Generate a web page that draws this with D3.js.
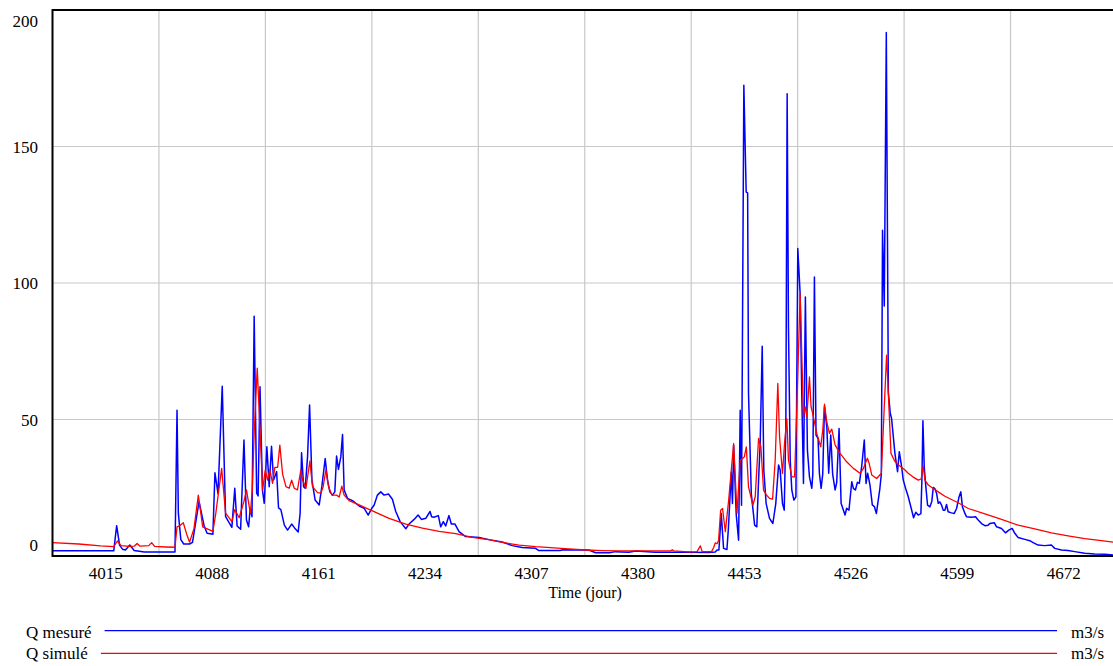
<!DOCTYPE html>
<html>
<head>
<meta charset="utf-8">
<script src="https://cdn.jsdelivr.net/npm/d3@7/dist/d3.min.js"></script>
<style>
  html, body { margin: 0; padding: 0; background: #fff; }
  svg { display: block; }
</style>
</head>
<body>
<svg id="chart" width="1113" height="666"></svg>
<script>
// ---- data ----
const timeDomain = [3942, 4672];
const xTickValues = [4015, 4088, 4161, 4234, 4307, 4380, 4453, 4526, 4599, 4672];
const yTickValues = [0, 50, 100, 150, 200];
const seriesNames = ["Q mesuré", "Q simulé"];
const seriesUnits = ["m3/s", "m3/s"];
const xAxisTitle = "Time (jour)";

const measuredDays = [3942,3984,3986,3988,3990,3992,3995,3998,4005,4015,4026,4027.4,4028.3,4030,4032,4036,4038,4042.5,4046,4048,4052,4053.4,4055.5,4058.4,4060.7,4065,4067,4068.6,4071,4073.3,4075,4076.5,4077.6,4078.8,4080.3,4082,4083,4084.3,4086,4087.2,4089,4090.6,4092.2,4093.6,4095.7,4097,4098.6,4101,4103.2,4106,4108,4110.5,4111.8,4112.8,4114.2,4115.3,4116.9,4118.3,4119.9,4122.1,4124.9,4126.7,4129,4130.6,4132.2,4134,4135.6,4136.8,4138.1,4139.7,4140.9,4142,4144.3,4147.7,4152.3,4155.7,4158.5,4161,4162.6,4164.8,4167.1,4169.4,4172.4,4175.1,4177.4,4180.4,4184.3,4186.5,4190,4192.7,4195,4198,4200.9,4202,4203.6,4206.6,4208.2,4210,4211.6,4213.9,4215.5,4218,4220.8,4225.3,4234.5,4241.3,4250.4,4257.3,4264.1,4273.3,4275.5,4290,4292,4309.8,4314.4,4324,4328,4337.2,4342,4355.5,4378.3,4392,4396.5,4397.7,4399,4400.6,4402.2,4404.5,4405.5,4407.5,4408.3,4409.1,4410.9,4412.5,4413.6,4414.5,4416.1,4417.7,4418.7,4419.3,4421.2,4423.5,4425,4426.2,4427.3,4428.7,4429.8,4431.4,4433.7,4436,4438,4439.9,4441,4442.6,4443.8,4444.9,4445.8,4446.7,4447.9,4449,4450.4,4451.8,4453.1,4454.7,4455.9,4457,4458.3,4459.7,4461.1,4462.7,4463.4,4464.5,4465.6,4467,4467.9,4469.1,4470.2,4471.4,4473,4474.3,4475.7,4477,4478.7,4479.8,4481.4,4482.8,4485.5,4486.6,4488.2,4490.1,4491.2,4492.6,4494,4495.3,4496.9,4498.7,4499.9,4501,4502.6,4504.2,4505.6,4507,4509.4,4510.4,4511.2,4512.4,4513.8,4515.2,4516.5,4517.4,4519.7,4521.5,4522.7,4524.3,4525.4,4527,4528.8,4531,4532.5,4534,4535.7,4537.5,4538.2,4538.9,4539.8,4540.7,4542.1,4543.7,4545,4546,4547.1,4548.3,4549.4,4550.5,4551.7,4552.8,4554,4555.1,4556.2,4558.5,4560.4,4562,4563.6,4564.9,4566,4567.7,4568.8,4572.2,4575,4576.8,4579.1,4581.4,4583.6,4584.8,4587.8,4589.4,4592.8,4595.5,4597.8,4600.1,4601.9,4604.2,4608.8,4612.2,4614.5,4617.9,4622.4,4627,4629.3,4633.9,4638.4,4643,4649.9,4656.7,4663.6,4672];
const measuredValues = [1.9,1.9,11.1,4,2.5,2.2,4,2,1.5,1.5,1.5,53.4,15.7,6,4.4,4.4,5,19.9,11,8.3,8,30.5,22.8,62.2,14.4,10.5,24.8,11,9.8,42.5,13.2,10.7,17.5,14.4,87.8,23,22,62,24,19.3,40,25.4,40.2,27.8,30.9,17.6,17,11.3,9.5,11.7,10.3,8.8,15.6,37.8,25.4,24.8,36.3,55.3,27.8,20.5,18.7,25.4,35.7,27.8,23.5,22.3,23.5,36.6,31.7,36.3,44.5,24.2,21.1,20.3,18.3,17.5,15,17.5,18.7,22.3,23.5,22.3,22.7,20.8,16.3,12.6,10,11.7,13.4,15,13.4,13.8,16.3,14.4,14.2,14.8,10.7,12.6,11,14.8,11.7,11.7,8.9,7.1,6.8,6,5.1,3.8,3.1,2.8,2,2,2.3,2.2,1.2,1.2,1.6,1.4,1.8,1.4,1.4,1.3,1.5,2.2,2.2,15.6,2.8,2.4,10,30.8,19.2,40.6,15,5.8,53.4,18.6,172.4,133.3,133,59.5,22.9,11.3,10.7,27.8,41.2,76.8,31.4,19.2,13.8,11.9,19.2,33.3,31.5,19.2,16.8,47.3,169.3,83.9,35.1,24.1,20.5,21.7,112.6,96.1,57.1,26.6,94.9,38.8,29,24.8,30,102.2,44.3,43.1,30.3,24.8,30,54.7,47.3,30.3,44.3,30,24.2,27,46.7,19.3,15,17.5,16.8,27.2,24.8,24.2,27,26.6,32.7,42.5,26.6,30.3,26,18.7,18.1,15.6,24.8,30,119.3,91.6,191.8,60,52.3,50.4,37.6,30.9,38.2,32.7,27.9,24.8,21.8,17.2,14,16,15,15.5,27.8,49.5,32.7,26.6,18.6,18,20,25.1,24.7,22.9,19.3,19.8,18.6,16.8,16.8,18.9,16.2,15.8,15.6,17.4,21.5,23.5,18,15.6,14.4,14.2,14.4,13.2,11.9,11.1,11.3,11.9,12.2,10.7,10.1,8.5,9.5,10.1,8.3,6.8,6.1,5.6,4.9,4,3.8,4,2.8,2.2,2,1.6,1,0.7,0.6,0.3];

const simulatedDays = [3942,3960,3975,3984,3986.5,3989,3995,3998,4000,4002,4008,4010,4012,4020,4026,4027.4,4029,4031.7,4034,4036,4039,4042,4045,4052,4054,4058,4060.7,4065,4067,4070,4073.3,4075,4077.7,4079,4080.3,4082.4,4084.9,4086.1,4087.9,4089.5,4091.1,4092.9,4094.5,4096.4,4097.9,4099.8,4102.1,4104.3,4106,4107.8,4110,4112.3,4113.5,4115.8,4118.5,4120.3,4123.7,4126,4127.6,4129.5,4131.3,4133.6,4136.8,4138.6,4140.4,4142,4145.4,4152.3,4161.4,4172.8,4184.3,4195.7,4207.1,4218.5,4229.9,4241,4250.4,4262,4273.3,4296.1,4307.5,4318.9,4330,4366,4367,4368,4378,4384,4386.3,4387.5,4394,4395.4,4396.5,4397.7,4398.8,4400.2,4401.5,4403.4,4405.7,4409.1,4411.4,4413.6,4416.4,4417.8,4419.3,4422.3,4423.9,4426.2,4427.8,4429.6,4431.4,4433.7,4435.8,4437.6,4439.4,4440.6,4442.6,4444,4445.6,4446.7,4449,4450.9,4452.4,4454.7,4457,4458.1,4459.3,4461.1,4462.2,4463.8,4466.1,4468.8,4470.2,4471.4,4473,4474.8,4476.4,4478.7,4482.1,4486.6,4491.2,4495.8,4498,4500.8,4502,4503.8,4507.2,4510.4,4512.4,4514,4515.6,4517,4519.7,4522,4526.6,4528.8,4532,4535.7,4537.7,4539.1,4540.3,4542.6,4546,4549.4,4554,4558.5,4563.1,4570,4581.4,4592.8,4604.2,4615.6,4627,4638.4,4649.9,4661.3,4672];
const simulatedValues = [4.9,4.4,3.7,3.4,5.5,3.8,3.5,3.6,4.6,3.6,3.8,4.9,3.5,3.3,3.2,10.7,11,12.2,8,5.1,10,22.3,10.7,9,15.7,32.1,15.7,12.6,17,14,20,24.2,15.6,24.2,45,68.8,38.8,24.2,31.5,27.8,31.5,26.6,32.5,32.5,40.6,30,25.4,24.8,27.8,24.8,24.2,31.5,27.8,24.8,34.8,25.4,23.2,23,25.4,31.5,25.4,22.3,22.3,21.6,25.6,22.3,20.3,18.7,16.5,13.8,11.7,10.2,9,8.2,6.8,6,5,4,3.4,2.6,2.2,2,1.9,1.9,2.3,1.9,1.5,1.6,3.7,1.6,1.6,3.1,4.8,4.5,5.8,16.8,17.4,8.9,20.5,41.2,15.6,35.1,36.3,40,25.3,18.6,21.7,43.1,40,24.1,22.5,21.1,20.8,35.1,63.2,43.6,30.2,41.2,50.3,35.1,29,29,53.4,96.1,51,54.7,51,65.6,54.7,51,44.9,40,46,55.6,49,44.9,46.5,40.6,37.6,34.5,32.1,30.3,32,35.8,34,29.7,28.4,30.3,54.7,73.6,54.7,37.6,34.6,33.4,31.5,30.3,29,27.8,28.2,32.9,27.8,26,24.7,23.5,21.9,20.7,19.5,17.4,15.4,13.4,11.3,9.9,8.5,7.4,6.4,5.6,4.9];

// ---- layout ----
const svg = d3.select("#chart");
const plotLeft = 52.5, plotRight = 1117, plotTop = 10, plotBottom = 556;
const x = d3.scaleLinear().domain(timeDomain).range([plotLeft, plotRight]);
const y = d3.scaleLinear().domain([yTickValues[0], yTickValues[yTickValues.length - 1]]).range([plotBottom, plotTop]);
const gridColor = "#c8c8c8";
const fontSize = 17;
const fontFamily = "'Liberation Serif', 'Times New Roman', Times, 'DejaVu Serif', serif";

// gridlines
svg.append("g").selectAll("line").data(xTickValues.slice(0, -1)).join("line")
  .attr("x1", d => x(d)).attr("x2", d => x(d)).attr("y1", plotTop).attr("y2", plotBottom)
  .attr("stroke", gridColor).attr("stroke-width", 1.2);
svg.append("g").selectAll("line").data(yTickValues.slice(1, -1)).join("line")
  .attr("x1", plotLeft).attr("x2", plotRight).attr("y1", d => y(d)).attr("y2", d => y(d))
  .attr("stroke", gridColor).attr("stroke-width", 1.2);

// series
const measured = measuredDays.map((d, i) => [d, measuredValues[i]]);
const simulated = simulatedDays.map((d, i) => [d, simulatedValues[i]]);
const lineGen = d3.line().x(d => x(d[0])).y(d => y(d[1]));
svg.append("path").datum(measured).attr("d", lineGen)
  .attr("fill", "none").attr("stroke", "#0000ff").attr("stroke-width", 1.5).attr("stroke-linejoin", "round");
svg.append("path").datum(simulated).attr("d", lineGen)
  .attr("fill", "none").attr("stroke", "#ff0000").attr("stroke-width", 1.3).attr("stroke-linejoin", "round");

// frame
svg.append("rect").attr("x", plotLeft).attr("y", plotTop).attr("width", plotRight - plotLeft).attr("height", plotBottom - plotTop)
  .attr("fill", "none").attr("stroke", "#000").attr("stroke-width", 2);

const txt = (sel) => sel.attr("font-family", fontFamily).attr("font-size", fontSize).attr("fill", "#000");

// y tick labels (extremes kept inside the frame)
svg.append("g").selectAll("text").data(yTickValues).join("text")
  .call(txt)
  .attr("x", 38).attr("text-anchor", "end")
  .attr("y", (d, i) => {
    if (i === 0) return y(d) - 5;
    if (i === yTickValues.length - 1) return y(d) + 17;
    return y(d) + 6;
  })
  .text(d => d);

// x tick labels, drawn centred in the division that ends at each value
const step = xTickValues[1] - xTickValues[0];
svg.append("g").selectAll("text").data(xTickValues).join("text")
  .call(txt)
  .attr("x", d => x(d - step / 2)).attr("y", 579).attr("text-anchor", "middle")
  .text(d => d);

svg.append("text").call(txt).attr("font-size", fontSize - 1)
  .attr("x", 585).attr("y", 598).attr("text-anchor", "middle")
  .text(xAxisTitle);

// legend
const legendColors = ["#0000ff", "#ff0000"];
const legendY = [630.7, 653.3];
const legendBase = [637.5, 658.5];
seriesNames.forEach((name, i) => {
  const t = svg.append("text").call(txt).attr("x", 26).attr("y", legendBase[i]).text(name);
  const w = t.node().getComputedTextLength();
  svg.append("line").attr("x1", 26 + w + 13).attr("x2", 1057)
    .attr("y1", legendY[i]).attr("y2", legendY[i])
    .attr("stroke", legendColors[i]).attr("stroke-width", 1.3);
  svg.append("text").call(txt).attr("x", 1071).attr("y", legendBase[i]).text(seriesUnits[i]);
});
</script>
</body>
</html>
